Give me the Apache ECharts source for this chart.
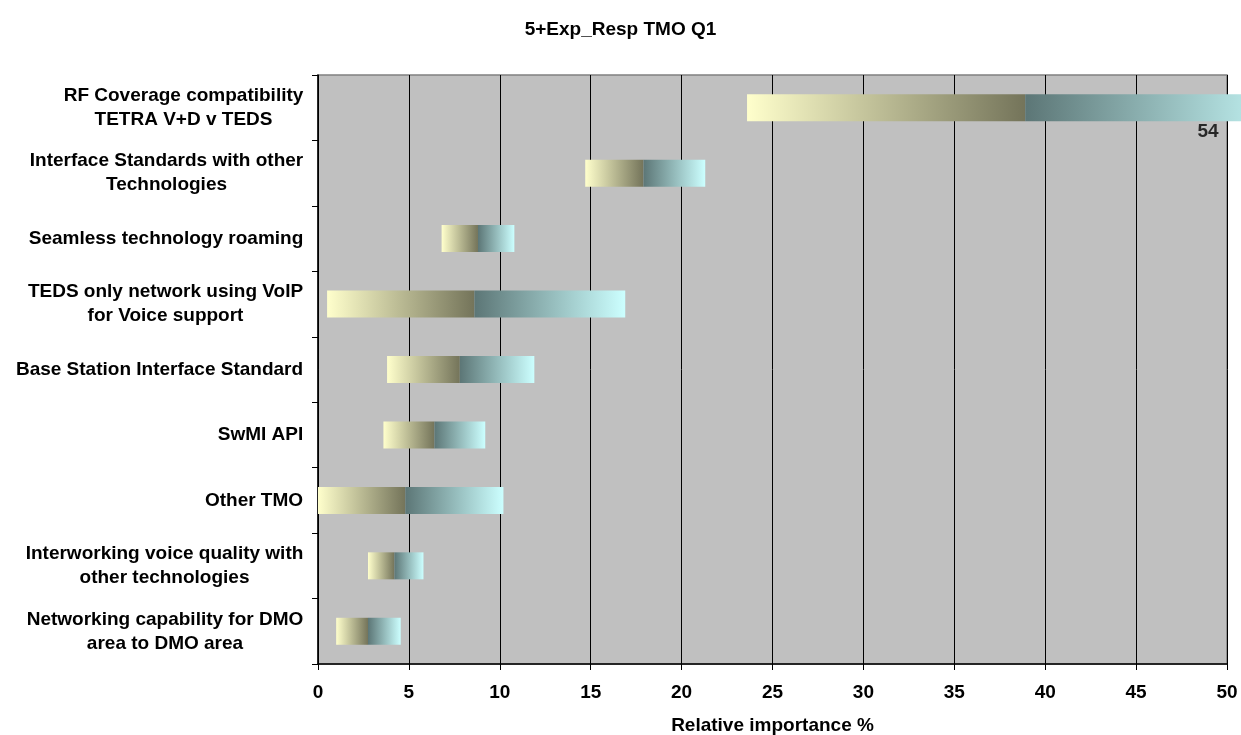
<!DOCTYPE html>
<html>
<head>
<meta charset="utf-8">
<script src="https://cdn.jsdelivr.net/npm/echarts@6/dist/echarts.min.js"></script>
<style>
html,body{margin:0;padding:0;background:#fff;}
#chart{width:1241px;height:735px;}
</style>
</head>
<body>
<div id="chart"></div>
<script>
// ---- data ----
var titleText = '5+Exp_Resp TMO Q1';
var axisTitle = 'Relative importance %';
var categories = [
  'RF Coverage compatibility\nTETRA V+D v TEDS',
  'Interface Standards with other\nTechnologies',
  'Seamless technology roaming',
  'TEDS only network using VoIP\nfor Voice support',
  'Base Station Interface Standard',
  'SwMI API',
  'Other TMO',
  'Interworking voice quality with\nother technologies',
  'Networking capability for DMO\narea to DMO area'
];
var lowValues  = [23.6, 14.7, 6.8, 0.5, 3.8, 3.6, 0.0, 2.75, 1.0];
var midValues  = [38.9, 17.9, 8.8, 8.6, 7.8, 6.4, 4.8, 4.2, 2.75];
var highValues = [54, 21.3, 10.8, 16.9, 11.9, 9.2, 10.2, 5.8, 4.55];
var xTicks = [0, 5, 10, 15, 20, 25, 30, 35, 40, 45, 50];
var calloutIndex = 0; // bar whose end value is printed (it runs past the axis)

// ---- build ----
var FONT = '"Liberation Sans", Arial, sans-serif';
var FS = 19;
var leftLen = midValues.map(function (m, i) { return +(m - lowValues[i]).toFixed(3); });
var rightLen = highValues.map(function (h, i) { return +(h - midValues[i]).toFixed(3); });

// rich text per label: lines centred within the block, block right-aligned
var ctx = document.createElement('canvas').getContext('2d');
ctx.font = 'bold ' + FS + 'px "Liberation Sans"';
var rich = {};
categories.forEach(function (c, i) {
  var w = 0;
  c.split('\n').forEach(function (l) { w = Math.max(w, ctx.measureText(l).width); });
  rich['c' + i] = {
    width: Math.ceil(w) + 1, align: 'center', fontSize: FS, fontWeight: 'bold',
    fontFamily: FONT, color: '#000', lineHeight: 24
  };
});

var yellowGrad = new echarts.graphic.LinearGradient(0, 0, 1, 0, [
  { offset: 0, color: '#FFFFCC' },
  { offset: 1, color: '#74745A' }
]);
var cyanGrad = new echarts.graphic.LinearGradient(0, 0, 1, 0, [
  { offset: 0, color: '#5C7676' },
  { offset: 1, color: '#CCFFFF' }
]);

var chart = echarts.init(document.getElementById('chart'), null, { renderer: 'canvas' });
chart.setOption({
  animation: false,
  backgroundColor: '#FFFFFF',
  title: {
    text: titleText, left: 'center', top: 15,
    textStyle: { fontFamily: FONT, fontSize: FS, fontWeight: 'bold', color: '#000' }
  },
  grid: {
    left: 318, right: 14, top: 75, bottom: 71,
    outerBoundsMode: 'none', containLabel: false,
    show: true, backgroundColor: '#C0C0C0', borderColor: '#808080', borderWidth: 1.5
  },
  xAxis: {
    type: 'value', min: xTicks[0], max: xTicks[xTicks.length - 1], interval: 5,
    name: axisTitle, nameLocation: 'middle', nameGap: 52,
    nameTextStyle: { fontFamily: FONT, fontSize: FS, fontWeight: 'bold', color: '#000' },
    axisLine: { show: true, lineStyle: { color: '#000', width: 1.5 } },
    axisTick: { show: true, length: 6, lineStyle: { color: '#000' } },
    axisLabel: { margin: 19, fontFamily: FONT, fontSize: FS, fontWeight: 'bold', color: '#000' },
    splitLine: { show: true, lineStyle: { color: '#000', width: 1 } }
  },
  yAxis: {
    type: 'category', data: categories, inverse: true,
    axisLine: { show: true, lineStyle: { color: '#000', width: 1.5 } },
    axisTick: { show: true, length: 6, lineStyle: { color: '#000' } },
    axisLabel: {
      margin: 14, align: 'right',
      formatter: function (v, i) {
        return v.split('\n').map(function (l) { return '{c' + i + '|' + l + '}'; }).join('\n');
      },
      rich: rich
    },
    splitLine: { show: false }
  },
  series: [
    {
      type: 'bar', stack: 'r', data: lowValues, barWidth: 27, clip: false,
      itemStyle: { color: 'rgba(0,0,0,0)' }, silent: true
    },
    {
      type: 'bar', stack: 'r', data: leftLen, barWidth: 27, clip: false,
      itemStyle: { color: yellowGrad }
    },
    {
      type: 'bar', stack: 'r', data: rightLen, barWidth: 27, clip: false,
      itemStyle: { color: cyanGrad }
    },
    {
      type: 'scatter', symbolSize: 0, silent: true,
      data: [[xTicks[xTicks.length - 1], calloutIndex]],
      label: {
        show: true, position: 'bottom', offset: [-19, 10],
        formatter: function () { return String(highValues[calloutIndex]); },
        fontFamily: FONT, fontSize: FS, fontWeight: 'bold', color: '#000'
      }
    }
  ]
});
</script>
</body>
</html>
